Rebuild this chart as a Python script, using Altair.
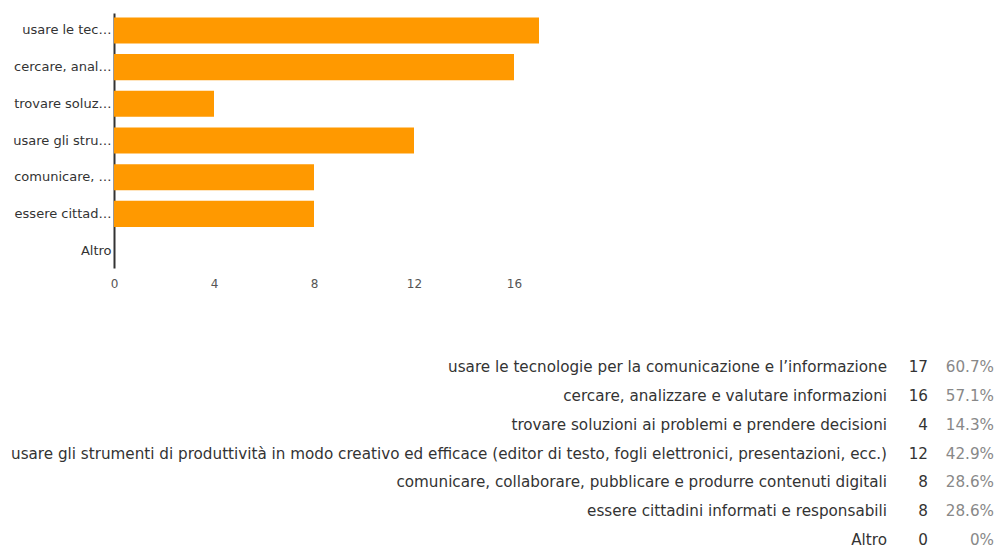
import altair as alt
import pandas as pd

labels = [
    "usare  le tecnologie per la comunicazione e l’informazione",
    "cercare, analizzare e valutare informazioni",
    "trovare soluzioni ai problemi e prendere decisioni",
    "usare gli strumenti di produttività in modo creativo ed efficace (editor di testo, fogli elettronici, presentazioni, ecc.)",
    "comunicare, collaborare, pubblicare e produrre contenuti digitali",
    "essere cittadini informati e responsabili",
    "Altro",
]
counts = [17, 16, 4, 12, 8, 8, 0]
percents = ["60.7%", "57.1%", "14.3%", "42.9%", "28.6%", "28.6%", "0%"]
x_ticks = [0, 4, 8, 12, 16]

df = pd.DataFrame({"label": labels, "count": counts, "pct": percents})
FONT = "DejaVu Sans"

bars = alt.Chart(df).mark_bar(color="#ff9900").encode(
    x=alt.X("count:Q", scale=alt.Scale(domain=[0, 18], nice=False),
            axis=alt.Axis(values=x_ticks, title=None, grid=False, domain=False,
                          ticks=False, labelFont=FONT, labelFontSize=12,
                          labelColor="#555", labelPadding=10, labelFlush=False)),
    y=alt.Y("label:N", sort=labels,
            scale=alt.Scale(paddingInner=0.29, paddingOuter=0.12),
            axis=alt.Axis(title=None, ticks=False, domainColor="#333",
                          domainWidth=2, labelLimit=100, labelFont=FONT,
                          labelFontSize=13, labelColor="#333", labelPadding=3,
                          minExtent=106, maxExtent=106)),
).properties(width=450, height=255)

base = alt.Chart(df).encode(y=alt.Y("label:N", sort=labels, axis=None))
t_label = base.mark_text(align="right", baseline="middle", font=FONT,
                         fontSize=15.2, color="#333").encode(
    x=alt.value(773), text="label:N")
t_count = base.mark_text(align="right", baseline="middle", font=FONT,
                         fontSize=15.2, color="#333").encode(
    x=alt.value(814), text="count:Q")
t_pct = base.mark_text(align="right", baseline="middle", font=FONT,
                       fontSize=15.2, color="#888").encode(
    x=alt.value(880), text="pct:N")
table = alt.layer(t_label, t_count, t_pct).properties(width=880, height=201)

chart = alt.vconcat(bars, table, spacing=64).configure_view(stroke=None).properties(
    padding={"left": 0, "top": 5, "right": 0, "bottom": 0})
chart.save("out.html", embed_options={"renderer": "svg", "actions": False})
